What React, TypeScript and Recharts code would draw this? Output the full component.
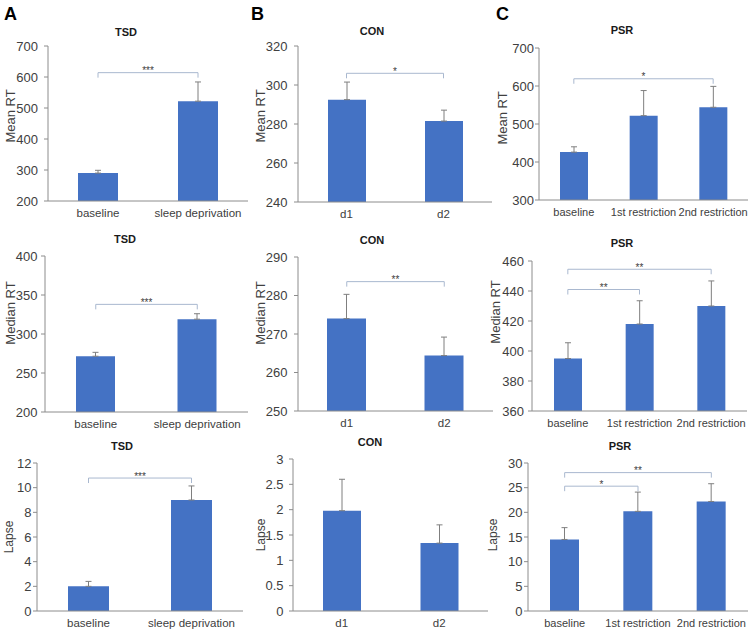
import React from 'react';
import { BarChart, Bar, XAxis, YAxis, ErrorBar, ReferenceLine, Label } from 'recharts';

// categories
const tsdCats = ['baseline', 'sleep deprivation'];
const conCats = ['d1', 'd2'];
const psrCats = ['baseline', '1st restriction', '2nd restriction'];

// row 1: mean RT
const tsdMeanRT = [290, 522];
const tsdMeanRTErr = [9, 62];
const conMeanRT = [292.5, 281.5];
const conMeanRTErr = [9, 5.6];
const psrMeanRT = [426, 522, 544];
const psrMeanRTErr = [14, 66, 55];

// row 2: median RT
const tsdMedianRT = [271.5, 319];
const tsdMedianRTErr = [5, 7];
const conMedianRT = [274, 264.4];
const conMedianRTErr = [6.3, 4.8];
const psrMedianRT = [395, 418, 430];
const psrMedianRTErr = [10.5, 15.5, 16.7];

// row 3: lapses
const tsdLapse = [2, 9];
const tsdLapseErr = [0.4, 1.14];
const conLapse = [1.98, 1.34];
const conLapseErr = [0.62, 0.36];
const psrLapse = [14.5, 20.2, 22.2];
const psrLapseErr = [2.4, 3.9, 3.6];

// y ticks
const tsdMeanTicks = [200, 300, 400, 500, 600, 700];
const conMeanTicks = [240, 260, 280, 300, 320];
const psrMeanTicks = [300, 400, 500, 600, 700];
const tsdMedianTicks = [200, 250, 300, 350, 400];
const conMedianTicks = [250, 260, 270, 280, 290];
const psrMedianTicks = [360, 380, 400, 420, 440, 460];
const tsdLapseTicks = [0, 2, 4, 6, 8, 10, 12];
const conLapseTicks = [0, 0.5, 1, 1.5, 2, 2.5, 3];
const psrLapseTicks = [0, 5, 10, 15, 20, 25, 30];

type Bracket = { from: string; to: string; y: number; stars: string };

const FONT = '"Liberation Sans", Arial, sans-serif';
const BAR = '#4472C4';
const AXIS = '#8c8c8c';
const TEXT = '#404040';

type Panel = {
  box: number[]; // x, y, w, h on page
  plot: number[]; // left, top, right, bottom on page
  cats: string[];
  values: number[];
  errs: number[];
  ticks: number[];
  tickGap: number;
  barSize: number;
  xFont: number;
  yLabel: string;
  labelFont: number;
  labelPos: number[];
  title: string;
  titlePos: number[];
  brackets: Bracket[];
};

const panels: Panel[] = [
  {
    box: [0, 0, 250, 235], plot: [48, 46, 248, 201], cats: tsdCats, values: tsdMeanRT, errs: tsdMeanRTErr,
    ticks: tsdMeanTicks, tickGap: 10, barSize: 40, xFont: 11.5, yLabel: 'Mean RT', labelFont: 13, labelPos: [10, 116],
    title: 'TSD', titlePos: [126, 36],
    brackets: [{ from: 'baseline', to: 'sleep deprivation', y: 614, stars: '***' }],
  },
  {
    box: [250, 0, 245, 235], plot: [298, 46, 492, 202], cats: conCats, values: conMeanRT, errs: conMeanRTErr,
    ticks: conMeanTicks, tickGap: 10.5, barSize: 38, xFont: 11.5, yLabel: 'Mean RT', labelFont: 13, labelPos: [260, 116],
    title: 'CON', titlePos: [372, 35],
    brackets: [{ from: 'd1', to: 'd2', y: 306, stars: '*' }],
  },
  {
    box: [485, 0, 268, 235], plot: [539, 48, 748, 200], cats: psrCats, values: psrMeanRT, errs: psrMeanRTErr,
    ticks: psrMeanTicks, tickGap: 5, barSize: 28, xFont: 11, yLabel: 'Mean RT', labelFont: 13, labelPos: [502, 118],
    title: 'PSR', titlePos: [622, 34],
    brackets: [{ from: 'baseline', to: '2nd restriction', y: 619, stars: '*' }],
  },
  {
    box: [0, 215, 250, 220], plot: [45, 256, 248, 412], cats: tsdCats, values: tsdMedianRT, errs: tsdMedianRTErr,
    ticks: tsdMedianTicks, tickGap: 7.5, barSize: 39, xFont: 11.5, yLabel: 'Median RT', labelFont: 13, labelPos: [10, 313],
    title: 'TSD', titlePos: [125, 243],
    brackets: [{ from: 'baseline', to: 'sleep deprivation', y: 338, stars: '***' }],
  },
  {
    box: [250, 215, 245, 220], plot: [298, 257, 493, 411], cats: conCats, values: conMedianRT, errs: conMedianRTErr,
    ticks: conMedianTicks, tickGap: 10.5, barSize: 39, xFont: 11.5, yLabel: 'Median RT', labelFont: 13, labelPos: [260, 313],
    title: 'CON', titlePos: [372, 244],
    brackets: [{ from: 'd1', to: 'd2', y: 283.6, stars: '**' }],
  },
  {
    box: [485, 215, 268, 220], plot: [532, 261, 747, 411], cats: psrCats, values: psrMedianRT, errs: psrMedianRTErr,
    ticks: psrMedianTicks, tickGap: 8, barSize: 28, xFont: 11, yLabel: 'Median RT', labelFont: 13, labelPos: [495, 312],
    title: 'PSR', titlePos: [622, 247],
    brackets: [
      { from: 'baseline', to: '1st restriction', y: 441, stars: '**' },
      { from: 'baseline', to: '2nd restriction', y: 454.5, stars: '**' },
    ],
  },
  {
    box: [0, 420, 250, 216], plot: [37, 463, 243, 611], cats: tsdCats, values: tsdLapse, errs: tsdLapseErr,
    ticks: tsdLapseTicks, tickGap: 5.5, barSize: 41, xFont: 11.5, yLabel: 'Lapse', labelFont: 12, labelPos: [9, 537],
    title: 'TSD', titlePos: [122, 450],
    brackets: [{ from: 'baseline', to: 'sleep deprivation', y: 10.78, stars: '***' }],
  },
  {
    box: [250, 420, 245, 216], plot: [293, 459, 488, 611], cats: conCats, values: conLapse, errs: conLapseErr,
    ticks: conLapseTicks, tickGap: 9.5, barSize: 38, xFont: 11.5, yLabel: 'Lapse', labelFont: 12, labelPos: [261, 535],
    title: 'CON', titlePos: [370, 446],
    brackets: [],
  },
  {
    box: [485, 420, 268, 216], plot: [528, 463, 748, 611], cats: psrCats, values: psrLapse, errs: psrLapseErr,
    ticks: psrLapseTicks, tickGap: 5.5, barSize: 29, xFont: 11, yLabel: 'Lapse', labelFont: 12, labelPos: [493, 535],
    title: 'PSR', titlePos: [620, 450],
    brackets: [
      { from: 'baseline', to: '1st restriction', y: 25.3, stars: '*' },
      { from: 'baseline', to: '2nd restriction', y: 28.05, stars: '**' },
    ],
  },
];

const bracketShape = (stars: string) => (p: any) => {
  const { x1, x2, y1 } = p;
  return (
    <g>
      <path d={`M${x1},${y1 + 5}V${y1}H${x2}V${y1 + 5}`} fill="none" stroke="#A9B8CF" strokeWidth={1} />
      <text x={(x1 + x2) / 2} y={y1 + 1.5} textAnchor="middle" fontSize={10} fill={TEXT} fontFamily={FONT}>
        {stars}
      </text>
    </g>
  );
};

const X_AXIS_H = 25;
const TICK_LEN = 4;

const PanelChart: React.FC<{ p: Panel }> = ({ p }) => {
  const [bx, by, bw, bh] = p.box;
  const [pl, pt, pr, pb] = p.plot;
  const data = p.cats.map((c, i) => ({ name: c, value: p.values[i], err: [0, p.errs[i]] }));
  const lx = p.labelPos[0] - bx;
  const ly = p.labelPos[1] - by;
  return (
    <div style={{ position: 'absolute', left: bx, top: by }}>
      <BarChart
        width={bw}
        height={bh}
        data={data}
        margin={{ top: pt - by, left: 0, right: bx + bw - pr, bottom: by + bh - pb - X_AXIS_H }}
      >
        <XAxis
          dataKey="name"
          height={X_AXIS_H}
          interval={0}
          tickLine={false}
          axisLine={{ stroke: AXIS }}
          tick={{ fontSize: p.xFont, fill: TEXT, fontFamily: FONT }}
        />
        <YAxis
          type="number"
          width={pl - bx}
          domain={[p.ticks[0], p.ticks[p.ticks.length - 1]]}
          ticks={p.ticks}
          allowDataOverflow
          interval={0}
          tickSize={TICK_LEN}
          tickMargin={p.tickGap - TICK_LEN}
          tickLine={{ stroke: AXIS }}
          axisLine={{ stroke: AXIS }}
          tick={{ fontSize: 13, fill: TEXT, fontFamily: FONT }}
        >
          <Label
            content={() => (
              <text
                x={lx}
                y={ly}
                transform={`rotate(-90 ${lx} ${ly})`}
                textAnchor="middle"
                dominantBaseline="central"
                fontSize={p.labelFont}
                fill={TEXT}
                fontFamily={FONT}
              >
                {p.yLabel}
              </text>
            )}
          />
        </YAxis>
        <Bar dataKey="value" fill={BAR} barSize={p.barSize} isAnimationActive={false}>
          <ErrorBar dataKey="err" width={3} stroke="#7f7f7f" strokeWidth={1} direction="y" />
        </Bar>
        {p.brackets.map((b, i) => (
          <ReferenceLine
            key={i}
            segment={[{ x: b.from, y: b.y }, { x: b.to, y: b.y }]}
            ifOverflow="visible"
            shape={bracketShape(b.stars)}
          />
        ))}
      </BarChart>
    </div>
  );
};

const letters = [
  { t: 'A', x: 4, y: 20 },
  { t: 'B', x: 251, y: 20 },
  { t: 'C', x: 496, y: 20 },
];

export default function App() {
  return (
    <div style={{ position: 'absolute', left: 0, top: 0, width: 753, height: 636, background: '#fff', overflow: 'hidden' }}>
      {panels.map((p, i) => (
        <PanelChart key={i} p={p} />
      ))}
      <svg width={753} height={636} style={{ position: 'absolute', left: 0, top: 0, pointerEvents: 'none' }}>
        {letters.map((l) => (
          <text key={l.t} x={l.x} y={l.y} fontSize={18} fontWeight="bold" fill="#000" fontFamily={FONT}>
            {l.t}
          </text>
        ))}
        {panels.map((p, i) => (
          <text
            key={i}
            x={p.titlePos[0]}
            y={p.titlePos[1]}
            textAnchor="middle"
            fontSize={11}
            fontWeight="bold"
            fill="#1a1a1a"
            fontFamily={FONT}
          >
            {p.title}
          </text>
        ))}
      </svg>
    </div>
  );
}
